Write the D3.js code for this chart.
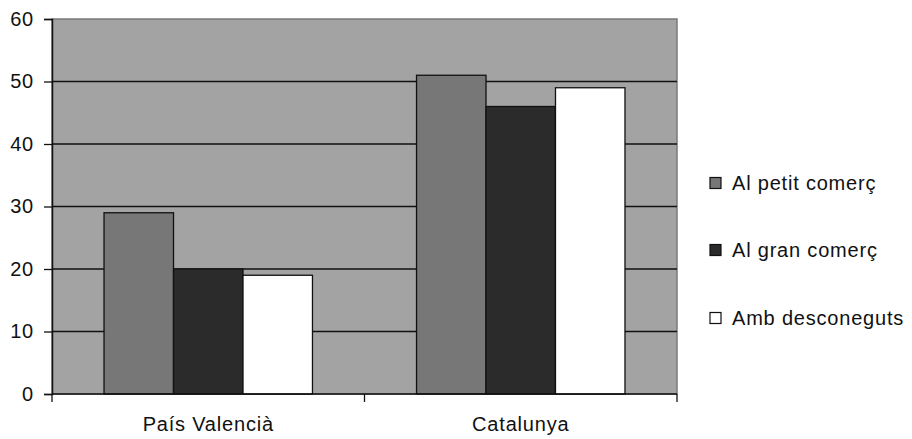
<!DOCTYPE html>
<html>
<head>
<meta charset="utf-8">
<script src="https://cdn.jsdelivr.net/npm/d3@7"></script>
<style>
  html, body { margin: 0; padding: 0; background: #fff; }
  svg { display: block; font-family: "Liberation Sans", Arial, sans-serif; }
  .lbl { font-size: 20px; letter-spacing: 0.8px; fill: #111; }
</style>
</head>
<body>
<svg id="chart" width="912" height="439"></svg>
<script>
// Categories, series and their values
const categories = ["País Valencià", "Catalunya"];
const seriesNames = ["Al petit comerç", "Al gran comerç", "Amb desconeguts"];
const petitComerc = [29, 51];
const granComerc = [20, 46];
const desconeguts = [19, 49];
const yTicks = [0, 10, 20, 30, 40, 50, 60];

const seriesValues = [petitComerc, granComerc, desconeguts];
const seriesColors = ["#777777", "#2b2b2b", "#ffffff"];

const svg = d3.select("#chart");
const plot = { left: 52, right: 677, top: 19, bottom: 394 };

const x0 = d3.scaleBand()
  .domain(categories)
  .range([plot.left, plot.right])
  .paddingInner(0.333)
  .paddingOuter(0.1665);

const x1 = d3.scaleBand()
  .domain(seriesNames)
  .range([0, x0.bandwidth()])
  .padding(0);

const y = d3.scaleLinear()
  .domain([0, 60])
  .range([plot.bottom, plot.top]);

// Plot background
svg.append("rect")
  .attr("x", plot.left).attr("y", plot.top)
  .attr("width", plot.right - plot.left).attr("height", plot.bottom - plot.top)
  .attr("fill", "#a3a3a3")
  .attr("stroke", "#7a7a7a")
  .attr("stroke-width", 1.5);

// Horizontal gridlines
svg.append("g")
  .selectAll("line")
  .data(yTicks.filter(d => d > 0 && d < 60))
  .join("line")
  .attr("x1", plot.left).attr("x2", plot.right)
  .attr("y1", d => y(d)).attr("y2", d => y(d))
  .attr("stroke", "#111").attr("stroke-width", 1.3);

// Bars
const rows = [];
categories.forEach((c, ci) => {
  seriesNames.forEach((s, si) => {
    rows.push({ cat: c, series: s, value: seriesValues[si][ci], color: seriesColors[si] });
  });
});

svg.append("g")
  .selectAll("rect")
  .data(rows)
  .join("rect")
  .attr("x", d => x0(d.cat) + x1(d.series))
  .attr("y", d => y(d.value))
  .attr("width", x1.bandwidth())
  .attr("height", d => y(0) - y(d.value))
  .attr("fill", d => d.color)
  .attr("stroke", "#111")
  .attr("stroke-width", 1.3);

// Y axis
const yAxis = svg.append("g")
  .attr("transform", `translate(${plot.left},0)`)
  .call(d3.axisLeft(y).tickValues(yTicks).tickSize(8).tickPadding(10).tickFormat(d3.format("d")));
yAxis.select(".domain").attr("stroke", "#111").attr("stroke-width", 1.5);
yAxis.selectAll(".tick line").attr("stroke", "#111").attr("stroke-width", 1.3);
yAxis.selectAll(".tick text")
  .attr("class", "lbl")
  .attr("font-size", null)
  .attr("font-family", null);
yAxis.attr("font-size", null).attr("font-family", null);

// X axis with boundary ticks between categories
const xAxis = svg.append("g")
  .attr("transform", `translate(0,${plot.bottom})`);
xAxis.append("line")
  .attr("x1", plot.left).attr("x2", plot.right)
  .attr("y1", 0).attr("y2", 0)
  .attr("stroke", "#111").attr("stroke-width", 1.5);
const step = x0.step();
const boundaries = [plot.left, plot.left + step, plot.right];
xAxis.selectAll("line.bt")
  .data(boundaries)
  .join("line")
  .attr("class", "bt")
  .attr("x1", d => d).attr("x2", d => d)
  .attr("y1", 0).attr("y2", 8)
  .attr("stroke", "#111").attr("stroke-width", 1.3);
xAxis.selectAll("text")
  .data(categories)
  .join("text")
  .attr("class", "lbl")
  .attr("x", d => x0(d) + x0.bandwidth() / 2)
  .attr("y", 37)
  .attr("text-anchor", "middle")
  .text(d => d);

// Legend
const legend = svg.append("g").attr("transform", "translate(710,0)");
const legendY = [183, 250, 318];
seriesNames.forEach((s, i) => {
  legend.append("rect")
    .attr("x", 0).attr("y", legendY[i] - 5.5)
    .attr("width", 11).attr("height", 11)
    .attr("fill", seriesColors[i])
    .attr("stroke", "#111").attr("stroke-width", 1.2);
  legend.append("text")
    .attr("class", "lbl")
    .attr("x", 22).attr("y", legendY[i] + 7)
    .text(s);
});
</script>
</body>
</html>
